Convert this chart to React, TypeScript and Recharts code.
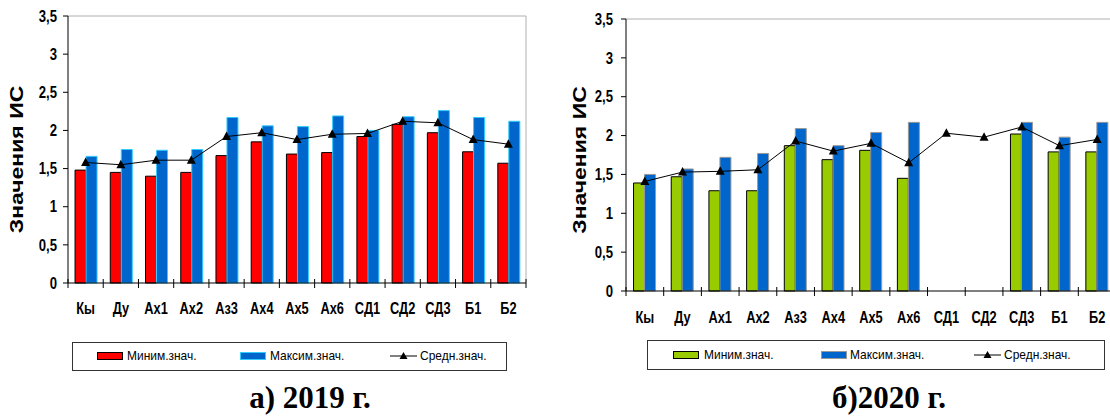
import React from "react";
import { ComposedChart, Bar, Line, XAxis, YAxis, ReferenceLine } from "recharts";

const categories = ["Кы", "Ду", "Ах1", "Ах2", "Аз3", "Ах4", "Ах5", "Ах6", "СД1", "СД2", "СД3", "Б1", "Б2"];

const min2019 = [1.48, 1.45, 1.4, 1.45, 1.67, 1.85, 1.69, 1.71, 1.92, 2.08, 1.97, 1.72, 1.57];
const max2019 = [1.66, 1.75, 1.74, 1.75, 2.17, 2.06, 2.05, 2.19, 2.0, 2.18, 2.26, 2.17, 2.12];
const avg2019 = [1.58, 1.55, 1.61, 1.61, 1.92, 1.97, 1.88, 1.95, 1.96, 2.12, 2.1, 1.88, 1.82];

const min2020 = [1.39, 1.47, 1.29, 1.29, 1.87, 1.69, 1.81, 1.45, null, null, 2.02, 1.79, 1.79];
const max2020 = [1.5, 1.57, 1.72, 1.77, 2.09, 1.87, 2.04, 2.17, null, null, 2.17, 1.98, 2.17];
const avg2020 = [1.41, 1.53, 1.54, 1.56, 1.93, 1.8, 1.9, 1.65, 2.03, 1.98, 2.11, 1.87, 1.95];

const yTicks = [0, 0.5, 1, 1.5, 2, 2.5, 3, 3.5];
const seriesNames = ["Миним.знач.", "Максим.знач.", "Средн.знач."];
const yTitle = "Значения ИС";

const FONT = '"Liberation Sans", Arial, sans-serif';
const SERIF = '"Liberation Serif", "Times New Roman", serif';

function buildRows(min: (number | null)[], max: (number | null)[], avg: number[]) {
  return categories.map((name, i) => ({ name, min: min[i], max: max[i], avg: avg[i] }));
}

function Triangle(props: any) {
  const { cx, cy } = props;
  if (cx == null || cy == null) return null;
  return <polygon points={`${cx},${cy - 5} ${cx - 4.5},${cy + 3.5} ${cx + 4.5},${cy + 3.5}`} fill="#000" />;
}

function XTick(props: any) {
  const { x, y, payload, index, band, gap } = props;
  return (
    <g>
      <line x1={x - band / 2} y1={y - 4} x2={x - band / 2} y2={y + 5} stroke="#000" />
      {index === categories.length - 1 && (
        <line x1={x + band / 2} y1={y - 4} x2={x + band / 2} y2={y + 5} stroke="#000" />
      )}
      <text
        transform={`translate(${x},${y + gap}) scale(0.8,1)`}
        textAnchor="middle"
        fontSize={16}
        fontWeight="bold"
        fontFamily={FONT}
        fill="#000"
      >
        {payload.value}
      </text>
    </g>
  );
}

function YTick(props: any) {
  const { x, y, payload } = props;
  return (
    <text
      transform={`translate(${x},${y}) scale(0.82,1)`}
      textAnchor="end"
      dy="0.36em"
      fontSize={16}
      fontWeight="bold"
      fontFamily={FONT}
      fill="#000"
    >
      {String(payload.value).replace(".", ",")}
    </text>
  );
}

function YTitle(props: any) {
  const { viewBox, dx, dy } = props;
  if (!viewBox) return null;
  const cx = viewBox.x + dx;
  const cy = viewBox.y + viewBox.height / 2 + dy;
  return (
    <text
      transform={`translate(${cx},${cy}) scale(0.8,1) rotate(-90)`}
      textAnchor="middle"
      dy="0.35em"
      fontSize={23}
      fontWeight="bold"
      fontFamily={FONT}
      fill="#000"
    >
      {yTitle}
    </text>
  );
}

function LegendBox(props: any) {
  const { box, items, colors } = props;
  return (
    <div
      style={{
        position: "absolute",
        left: box.left,
        top: box.top,
        width: box.width,
        height: box.height,
        border: "1px solid #333",
        boxSizing: "border-box",
        fontFamily: FONT,
        fontSize: 13,
        color: "#000",
      }}
    >
      {seriesNames.map((name, i) => (
        <React.Fragment key={name}>
          {i < 2 ? (
            <div
              style={{
                position: "absolute",
                left: items[i][0],
                top: box.mid - 4,
                width: 26,
                height: 8,
                background: colors[i][0],
                border: `1px solid ${colors[i][1]}`,
                boxSizing: "border-box",
              }}
            />
          ) : (
            <svg style={{ position: "absolute", left: items[i][0], top: box.mid - 5 }} width={27} height={10}>
              <line x1={0} y1={5} x2={27} y2={5} stroke="#000" />
              <polygon points="13.5,1 9.5,8 17.5,8" fill="#000" />
            </svg>
          )}
          <div
            style={{
              position: "absolute",
              left: items[i][1],
              top: box.mid - 8,
              lineHeight: "16px",
              whiteSpace: "nowrap",
              transform: "scaleX(0.92)",
              transformOrigin: "left center",
            }}
          >
            {name}
          </div>
        </React.Fragment>
      ))}
    </div>
  );
}

function Panel(props: any) {
  const { cfg, rows } = props;
  const plotWidth = cfg.width - cfg.margin.left - cfg.yWidth - cfg.margin.right - 1;
  const band = plotWidth / categories.length;
  return (
    <>
      <div style={{ position: "absolute", left: cfg.left, top: 0 }}>
        <ComposedChart
          width={cfg.width}
          height={cfg.height}
          data={rows}
          margin={cfg.margin}
          barCategoryGap="20%"
          barGap={0}
        >
          <XAxis
            dataKey="name"
            height={30}
            interval={0}
            tickSize={0}
            tickMargin={0}
            tickLine={false}
            axisLine={{ stroke: "#000" }}
            tick={<XTick band={band} gap={cfg.labelGap} />}
          />
          <YAxis
            width={cfg.yWidth}
            domain={[0, 3.5]}
            ticks={yTicks}
            interval={0}
            tickSize={5}
            tickMargin={cfg.tickMargin}
            axisLine={{ stroke: "#000" }}
            tickLine={{ stroke: "#000" }}
            tick={<YTick />}
            label={<YTitle dx={cfg.titleDx} dy={cfg.titleDy} />}
          />
          <YAxis
            yAxisId="right"
            orientation="right"
            width={1}
            domain={[0, 3.5]}
            tick={false}
            tickLine={false}
            axisLine={{ stroke: "#b0b0b0" }}
          />
          <ReferenceLine y={3.5} stroke="#b0b0b0" />
          <Bar dataKey="min" name={seriesNames[0]} fill={cfg.colors[0][0]} stroke={cfg.colors[0][1]} isAnimationActive={false} />
          <Bar dataKey="max" name={seriesNames[1]} fill={cfg.colors[1][0]} stroke={cfg.colors[1][1]} isAnimationActive={false} />
          <Line
            dataKey="avg"
            name={seriesNames[2]}
            type="linear"
            stroke="#000"
            strokeWidth={1}
            dot={<Triangle />}
            activeDot={false}
            isAnimationActive={false}
          />
        </ComposedChart>
      </div>
      <LegendBox box={cfg.legend} items={cfg.legendItems} colors={cfg.colors} />
      <div
        style={{
          position: "absolute",
          left: cfg.captionX - 150,
          top: 382,
          width: 300,
          textAlign: "center",
          fontFamily: SERIF,
          fontWeight: "bold",
          fontSize: 31,
          lineHeight: "31px",
          color: "#000",
        }}
      >
        {cfg.caption}
      </div>
    </>
  );
}

const cfg2019 = {
  left: 0,
  width: 540,
  height: 330,
  margin: { top: 16, right: 13, bottom: 17, left: 0 },
  yWidth: 68,
  tickMargin: 6,
  titleDx: 17,
  titleDy: 10,
  labelGap: 31,
  colors: [["#FF0000", "#000000"], ["#0066CC", "#33CCFF"]],
  legend: { left: 72, top: 342, width: 435, height: 29, mid: 13 },
  legendItems: [[24, 54], [167, 197], [317, 347]],
  captionX: 310,
  caption: "а) 2019 г.",
};

const cfg2020 = {
  left: 560,
  width: 560,
  height: 340,
  margin: { top: 19, right: 3, bottom: 19, left: 0 },
  yWidth: 66,
  tickMargin: 8,
  titleDx: 20,
  titleDy: 5,
  labelGap: 32,
  colors: [["#99CC00", "#000000"], ["#0066CC", "#999999"]],
  legend: { left: 647, top: 340, width: 458, height: 30, mid: 14 },
  legendItems: [[25, 56], [173, 202], [326, 356]],
  captionX: 889,
  caption: "б)2020 г.",
};

export default function App() {
  return (
    <div
      style={{
        position: "absolute",
        left: 0,
        top: 0,
        width: 1110,
        height: 416,
        overflow: "hidden",
        background: "#fff",
      }}
    >
      <Panel cfg={cfg2019} rows={buildRows(min2019, max2019, avg2019)} />
      <Panel cfg={cfg2020} rows={buildRows(min2020, max2020, avg2020)} />
    </div>
  );
}
